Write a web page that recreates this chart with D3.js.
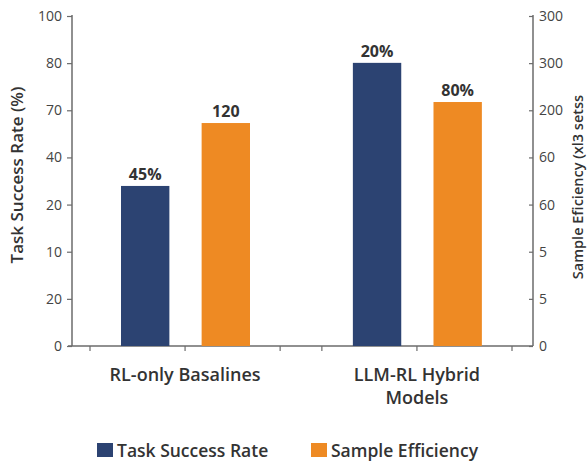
<!DOCTYPE html>
<html><head><meta charset="utf-8">
<script src="https://cdn.jsdelivr.net/npm/d3@7"></script>
<style>body{margin:0;background:#fff}svg{display:block}text{font-family:"Open Sans",sans-serif}</style>
</head><body><svg id="c" width="588" height="466"></svg>
<script>
const categories = ["RL-only Basalines", "LLM-RL Hybrid Models"];
const categoryLines = [["RL-only Basalines"], ["LLM-RL Hybrid", "Models"]];
const series = ["Task Success Rate", "Sample Efficiency"];
const successRate = [48.5, 85.8];
const successLabels = ["45%", "20%"];
const efficiency = [202.7, 221.8];
const efficiencyLabels = ["120", "80%"];
const leftTickLabels = ["0", "20", "10", "20", "40", "70", "80", "100"];
const rightTickLabels = ["0", "5", "5", "60", "60", "200", "300", "300"];
const colors = ["#2c4372", "#ee8a23"];

const svg = d3.select("#c");
const L = 72, R = 533, T = 16, B = 346;
const axisColor = "#6b6b6b", textColor = "#333";

const yL = d3.scaleLinear().domain([0, 100]).range([B, T]);
const yR = d3.scaleLinear().domain([0, 300]).range([B, T]);
const x0 = d3.scaleBand().domain(categories).range([90, 512]).paddingInner(0.18).paddingOuter(0);
const x1 = d3.scaleBand().domain(series).range([31, 160]).paddingInner(0.4).paddingOuter(0);

const nL = leftTickLabels.length - 1;
const leftTicks = d3.range(leftTickLabels.length).map(i => i * 100 / nL);
const rightTicks = d3.range(rightTickLabels.length).map(i => i * 300 / (rightTickLabels.length - 1));

// left axis
const gL = svg.append("g").attr("transform", `translate(${L},0)`)
  .call(d3.axisLeft(yL).tickValues(leftTicks).tickFormat((d, i) => leftTickLabels[i]).tickSize(5).tickPadding(5));
// right axis (ticks inward)
const gR = svg.append("g").attr("transform", `translate(${R},0)`)
  .call(d3.axisRight(yR).tickValues(rightTicks).tickFormat((d, i) => rightTickLabels[i]).tickSize(0).tickPadding(6));
gR.selectAll(".tick line").attr("x2", -4);
[gL, gR].forEach(g => {
  g.select(".domain").attr("stroke", axisColor).attr("stroke-width", 1.5).attr("d", `M0,${T-1}V${B}`);
  g.selectAll(".tick line").attr("stroke", axisColor).attr("stroke-width", 1.2);
  g.selectAll(".tick text").attr("fill", "#444").style("font-size", "14px").style("font-family", "Open Sans, sans-serif");
});

// bottom axis line and ticks
svg.append("line").attr("x1", 68).attr("x2", R).attr("y1", B).attr("y2", B)
  .attr("stroke", axisColor).attr("stroke-width", 1.5);
const bTicks = [];
categories.forEach(c => { bTicks.push(x0(c), x0(c) + x0.bandwidth() / 2, x0(c) + x0.bandwidth()); });
svg.selectAll(".bt").data(bTicks).enter().append("line")
  .attr("x1", d => d).attr("x2", d => d).attr("y1", B).attr("y2", B + 5)
  .attr("stroke", axisColor).attr("stroke-width", 1.2);

// bars
const rows = categories.map((c, i) => [
  {c, s: series[0], y: yL(successRate[i]), lab: successLabels[i], col: colors[0]},
  {c, s: series[1], y: yR(efficiency[i]), lab: efficiencyLabels[i], col: colors[1]}
]).flat();
svg.selectAll(".bar").data(rows).enter().append("rect")
  .attr("x", d => x0(d.c) + x1(d.s)).attr("width", x1.bandwidth())
  .attr("y", d => d.y).attr("height", d => B - d.y).attr("fill", d => d.col);
svg.selectAll(".vl").data(rows).enter().append("text")
  .attr("x", d => x0(d.c) + x1(d.s) + x1.bandwidth() / 2).attr("y", d => d.y - 6)
  .attr("text-anchor", "middle").attr("fill", textColor)
  .style("font-size", "16px").style("font-weight", "700").text(d => d.lab);

// category labels
categories.forEach((c, i) => {
  const t = svg.append("text").attr("text-anchor", "middle").attr("fill", textColor)
    .style("font-size", "18px").style("font-weight", "600");
  categoryLines[i].forEach((ln, j) => {
    t.append("tspan").attr("x", x0(c) + x0.bandwidth() / 2).attr("y", 381 + j * 23).text(ln);
  });
});

// axis titles
svg.append("text").attr("transform", `translate(23,175) rotate(-90)`).attr("text-anchor", "middle")
  .attr("fill", textColor).style("font-size", "17px").style("font-weight", "600").text("Task  Success Rate (%)");
svg.append("text").attr("transform", `translate(583,187) rotate(-90)`).attr("text-anchor", "middle")
  .attr("fill", textColor).style("font-size", "14.5px").style("font-weight", "600").text("Sample Eficiency (xl3 setss");

// legend
const leg = [{x: 97, s: series[0], col: colors[0]}, {x: 311, s: series[1], col: colors[1]}];
leg.forEach(d => {
  svg.append("rect").attr("x", d.x).attr("y", 443).attr("width", 16).attr("height", 14).attr("fill", d.col);
  svg.append("text").attr("x", d.x + 20).attr("y", 457).attr("fill", textColor)
    .style("font-size", "17.5px").style("font-weight", "600").text(d.s);
});
</script></body></html>
